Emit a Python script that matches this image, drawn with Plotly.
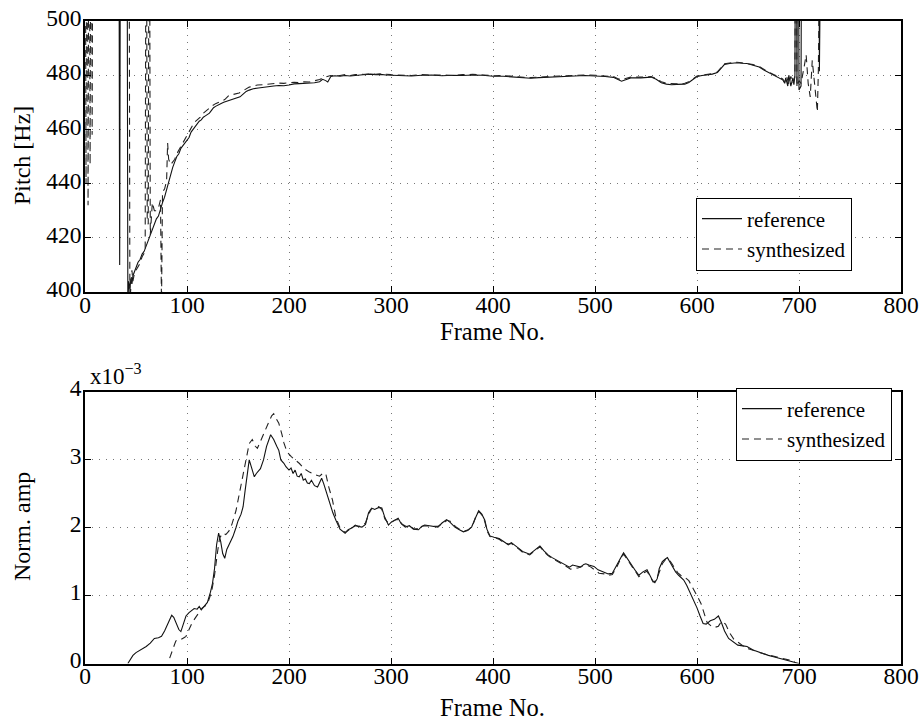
import plotly.graph_objects as go

# ---------------- Pitch (top) ----------------
ref_pitch_frames = [33, 34, 35, 41, 42, 43, 44, 45, 46, 47, 48, 50, 52, 54, 56, 58, 60, 62, 64, 66, 68, 70, 72, 74, 76, 78,
                    80, 82, 84, 86, 88, 90, 92, 94, 96, 98, 100, 102, 104, 106, 108, 110, 112, 114, 116, 118, 120, 122,
                    124, 126, 128, 130, 133, 136, 140, 144, 148, 152, 155, 158, 161, 165, 170, 175, 180, 185, 190, 195,
                    200, 205, 210, 215, 220, 225, 230, 233, 236, 238, 241, 245, 250, 255, 260, 265, 270, 275, 280, 285,
                    290, 295, 300, 310, 320, 330, 340, 350, 360, 370, 380, 390, 400, 410, 420, 430, 437, 445, 455, 465,
                    475, 490, 500, 510, 518, 522, 526, 530, 535, 545, 555, 560, 565, 570, 575, 580, 588, 592, 596, 600,
                    605, 610, 615, 620, 624, 627, 632, 639, 644, 649, 655, 661, 666, 670, 675, 678, 681, 684, 686, 687,
                    689, 690, 692, 694, 695, 696, 697, 698, 699, 700, 702, 703, 719, 720, 721, 723]
ref_pitch_values = [600, 410, 600, 600, 397, 404, 401, 405, 403, 406, 407, 409, 411, 412, 414, 415, 417, 419, 421, 423,
                    425, 427, 428, 431, 433, 435, 438, 441, 443, 446, 448, 450, 451, 453, 454, 455, 456, 457, 459, 460,
                    461, 462, 463, 463.5, 464.5, 465, 465.5, 466, 467, 468, 468.5, 469, 469.5, 470, 470.5, 471, 471.3,
                    472, 473, 474, 474.5, 475, 475.3, 475.6, 475.8, 476, 476.2, 476.1, 476.4, 476.8, 476.9, 477, 477.1,
                    477.2, 477.6, 478.5, 478, 477.5, 479.5, 479.8, 479.6, 479.9, 479.7, 479.8, 480.1, 480.3, 480.4,
                    480.2, 480.3, 480.1, 480, 479.9, 479.7, 480, 480.1, 479.8, 480, 479.9, 480.1, 480, 479.6, 479.6,
                    479.3, 479, 478.9, 479.1, 479.2, 479.5, 479.6, 479.9, 479.8, 479.5, 479.2, 478.5, 477.8, 478.3, 479,
                    479, 479.3, 478.5, 477.2, 476.7, 476.5, 476.6, 476.7, 477.3, 478.3, 479.5, 479.9, 480.2, 480.4, 481,
                    482.5, 484, 484.3, 484.6, 484.4, 484.3, 483.7, 483, 481.8, 481, 480, 479.5, 479, 478.3, 477, 479,
                    476, 480, 476, 479, 476.5, 480, 600, 476, 600, 474.5, 476, 600, 600, 481.5, 600, 600]

syn_pitch_frames = [0, 1, 2, 3, 4, 5, 6, 7, 8, 43, 44, 45, 46, 47, 48, 50, 53, 56, 59, 60, 61, 62, 63, 64, 66, 68, 70, 72,
                    74, 75, 76, 78, 80, 81, 82, 84, 86, 88, 90, 93, 96, 99, 102, 105, 107, 110, 113, 116, 119, 122, 125,
                    128, 131, 134, 137, 141, 146, 151, 156, 161, 165, 169, 175, 180, 185, 190, 195, 200, 205, 210, 215,
                    220, 225, 230, 235, 240, 245, 250, 255, 260, 265, 270, 275, 280, 285, 290, 300, 310, 320, 330, 340,
                    350, 360, 370, 380, 390, 400, 410, 420, 430, 437, 445, 455, 465, 475, 490, 500, 510, 518, 522, 526,
                    530, 535, 545, 555, 560, 565, 570, 575, 580, 588, 592, 596, 600, 605, 610, 615, 620, 624, 627, 632,
                    639, 644, 649, 655, 661, 666, 670, 675, 678, 681, 684, 686, 688, 690, 692, 694, 696, 697, 698, 700,
                    702, 705, 707, 709, 711, 713, 715, 717, 718, 719, 720, 722]
syn_pitch_values = [600, 440, 600, 432, 600, 447, 600, 458, 600, 600, 396, 402, 408, 404, 406, 408, 410, 413, 415, 600,
                    426, 425, 600, 421, 433, 430, 430, 431, 434, 395, 437, 438, 441, 455, 449, 447, 448, 449, 451, 453,
                    455, 457, 459, 461, 462.5, 463.5, 464.5, 466, 467, 468, 468.8, 469.5, 470, 470.3, 471, 472.5, 473,
                    473.4, 474.5, 475.6, 476, 476.4, 476.5, 476.7, 477, 477.1, 477, 477.2, 477.4, 477.3, 477.6, 477.5,
                    477.9, 478.4, 479.2, 479.8, 479.9, 479.9, 480.2, 479.9, 480.2, 480.4, 480.2, 480.6, 480.3, 480.5,
                    480.2, 480.1, 479.9, 480.2, 480, 480.1, 479.9, 480.2, 480.3, 480.1, 479.8, 479.9, 479.5, 479.2,
                    479.1, 479.4, 479.5, 479.7, 479.9, 480.1, 480, 479.8, 479.5, 478.8, 478.2, 478.8, 479.3, 479.3,
                    479.5, 478.8, 477.6, 477, 476.8, 476.8, 477, 477.6, 478.6, 479.7, 480, 480.3, 480.6, 481.2, 482.8,
                    484.2, 484.5, 484.8, 484.6, 484.4, 483.9, 483.2, 482, 481.2, 480.3, 479.7, 479.2, 478.6, 477.5,
                    479.5, 476.5, 479.6, 477, 479.5, 600, 476, 478, 477, 483, 487.5, 477, 472, 485.5, 478, 473, 466.5,
                    482, 600, 600]

# ---------------- Normalised amplitude (bottom, x10^-3) ----------------
ref_amp_frames = [42, 45, 47, 50, 55, 60, 64, 68, 72, 75, 78, 82, 85, 87, 89.5, 92, 94, 96, 99, 102, 105, 107, 110, 112,
                  114, 117, 120, 123, 125, 127, 129, 131, 133, 135, 137, 139, 142, 145, 148, 150, 153, 155, 157, 159,
                  161, 163, 166, 168, 170, 172, 175, 178, 182, 185, 188, 190, 192, 195, 197, 200, 202, 204, 206, 208,
                  210, 212, 214, 216, 218, 220, 222, 225, 228, 230, 232, 234, 237, 240, 243, 246, 250, 255, 258, 262,
                  265, 268, 271.5, 275, 278, 281, 284, 288, 291, 294, 297.5, 300, 304, 307, 310, 314, 318, 322, 327,
                  330, 333, 337, 341, 346, 350, 354.5, 358, 362.6, 367, 371, 375, 379, 383, 386, 389, 392, 394, 397,
                  401, 406, 410, 415, 418, 421, 425, 429, 433, 436, 440, 443, 446, 450, 454, 458, 463, 468, 472, 475,
                  478, 481, 484, 486, 489, 491, 494, 499, 503, 509, 513, 517, 521, 525, 528, 531, 534, 537, 540, 543,
                  547, 551, 554, 556.5, 558.7, 561, 563, 566, 569, 571, 574, 577, 579, 582, 584, 587, 590, 593, 597,
                  600, 603, 606, 609, 613, 617, 621, 624, 627, 631, 635, 640, 645, 649, 655, 660, 665, 670, 675, 680,
                  685, 690, 695, 700]
ref_amp_values = [0.0, 0.08, 0.12, 0.16, 0.2, 0.25, 0.3, 0.37, 0.38, 0.4, 0.48, 0.62, 0.71, 0.68, 0.6, 0.5, 0.47, 0.55,
                  0.7, 0.75, 0.79, 0.81, 0.8, 0.84, 0.79, 0.85, 0.9, 1.05, 1.18, 1.4, 1.75, 1.92, 1.8, 1.62, 1.55, 1.68,
                  1.78, 1.87, 2.0, 2.1, 2.2, 2.31, 2.55, 2.8, 3.0, 2.9, 2.75, 2.8, 2.84, 2.87, 3.0, 3.2, 3.37, 3.3, 3.2,
                  3.14, 3.0, 2.95, 2.9, 2.85, 2.88, 2.8, 2.85, 2.76, 2.75, 2.8, 2.7, 2.72, 2.66, 2.65, 2.7, 2.62, 2.6,
                  2.68, 2.73, 2.65, 2.5, 2.38, 2.22, 2.11, 1.98, 1.92, 1.97, 2.0, 2.04, 2.02, 2.01, 2.05, 2.22, 2.29,
                  2.27, 2.3, 2.29, 2.15, 2.04, 2.08, 2.12, 2.14, 2.06, 2.01, 2.03, 1.98, 1.97, 2.02, 2.04, 2.03, 2.02,
                  2.01, 2.07, 2.12, 2.08, 2.01, 1.97, 1.94, 1.96, 2.01, 2.15, 2.25, 2.2, 2.11, 1.98, 1.88, 1.86, 1.84,
                  1.8, 1.75, 1.78, 1.75, 1.7, 1.65, 1.63, 1.61, 1.66, 1.7, 1.73, 1.66, 1.6, 1.56, 1.52, 1.48, 1.44,
                  1.42, 1.45, 1.44, 1.42, 1.42, 1.46, 1.47, 1.45, 1.43, 1.38, 1.34, 1.32, 1.33, 1.43, 1.55, 1.63, 1.56,
                  1.48, 1.43, 1.36, 1.3, 1.35, 1.38, 1.3, 1.22, 1.19, 1.25, 1.4, 1.5, 1.54, 1.56, 1.48, 1.4, 1.35, 1.3,
                  1.27, 1.23, 1.15, 1.05, 0.94, 0.82, 0.7, 0.59, 0.58, 0.63, 0.65, 0.7, 0.6, 0.48, 0.37, 0.32, 0.27,
                  0.26, 0.25, 0.2, 0.17, 0.15, 0.12, 0.1, 0.08, 0.06, 0.05, 0.03, 0.0]

syn_amp_frames = [83, 86, 89, 92, 95, 97, 99, 102, 105, 109, 112, 115, 118, 121, 124, 127, 130, 132, 135, 138, 141, 144,
                  148, 151, 154, 157, 159, 161, 164, 167, 169, 172, 175, 177, 180, 183, 185, 187, 190, 193, 195, 198,
                  202, 206, 210, 215, 220, 226, 230, 233, 236, 239, 242.6, 246, 250, 255, 258, 262, 265, 268, 272, 275,
                  278, 281, 285, 288, 291, 294, 298, 301, 305, 308, 311, 315, 319, 323, 328, 332, 336, 341, 346, 350,
                  355, 359, 363, 368, 372, 376, 380, 383, 386, 389, 392, 394, 397, 401, 406, 410, 415, 418, 421, 425,
                  429, 433, 436, 440, 443, 446, 450, 454, 458, 463, 468, 472, 476, 480, 484, 488, 492, 496, 500, 504,
                  509, 513, 517, 521, 525, 528, 531, 534, 537, 540, 543, 547, 551, 554, 557, 560, 563, 566, 569, 572,
                  575, 578, 581, 584, 588, 592, 596, 600, 604, 607, 610, 614, 617, 621, 624, 628, 632, 636, 641, 646,
                  650, 655, 660, 666, 672, 678, 684, 690, 696]
syn_amp_values = [0.08, 0.2, 0.33, 0.36, 0.36, 0.38, 0.4, 0.5, 0.6, 0.69, 0.75, 0.82, 0.85, 0.92, 1.05, 1.3, 1.65, 1.85,
                  1.92, 1.9, 1.95, 2.05, 2.25, 2.48, 2.7, 2.95, 3.1, 3.24, 3.3, 3.2, 3.17, 3.28, 3.38, 3.44, 3.55, 3.65,
                  3.68, 3.62, 3.54, 3.38, 3.25, 3.12, 3.05, 3.0, 2.95, 2.87, 2.82, 2.78, 2.76, 2.8, 2.8, 2.6, 2.41, 2.15,
                  2.0, 1.93, 1.96, 1.99, 2.03, 2.02, 2.03, 2.07, 2.2, 2.28, 2.29, 2.31, 2.27, 2.13, 2.06, 2.09, 2.12,
                  2.12, 2.05, 2.02, 2.02, 1.98, 1.99, 2.03, 2.03, 2.02, 2.02, 2.06, 2.11, 2.09, 2.02, 1.97, 1.95, 1.97,
                  2.03, 2.16, 2.24, 2.19, 2.09, 1.96, 1.87, 1.86, 1.83, 1.79, 1.76, 1.77, 1.74, 1.69, 1.64, 1.62, 1.6,
                  1.65, 1.69, 1.72, 1.65, 1.59, 1.55, 1.51, 1.47, 1.43, 1.39, 1.4, 1.41, 1.44, 1.45, 1.42, 1.37, 1.33,
                  1.32, 1.3, 1.31, 1.41, 1.54, 1.61, 1.55, 1.47, 1.41, 1.35, 1.28, 1.33, 1.36, 1.28, 1.2, 1.22, 1.34,
                  1.47, 1.53, 1.54, 1.48, 1.4, 1.34, 1.3, 1.27, 1.22, 1.12, 1.0, 0.88, 0.72, 0.6, 0.55, 0.53, 0.55,
                  0.62, 0.58, 0.45, 0.36, 0.3, 0.25, 0.22, 0.19, 0.17, 0.14, 0.12, 0.09, 0.07, 0.05, 0.03, 0.0]

x_ticks = [0, 100, 200, 300, 400, 500, 600, 700, 800]
pitch_ticks = [400, 420, 440, 460, 480, 500]
amp_ticks = [0, 1, 2, 3, 4]

W, H = 920, 727
FONT = "Liberation Serif, Times New Roman, Times, serif"


def px(x):
    return x / W


def py(y):
    return 1 - y / H


fig = go.Figure()

line_ref = dict(color="#111111", width=1.1)
line_syn = dict(color="#222222", width=1.1, dash="7px,5px")

fig.add_trace(go.Scatter(x=ref_pitch_frames, y=ref_pitch_values, mode="lines", name="reference",
                         line=line_ref, xaxis="x", yaxis="y", legend="legend"))
fig.add_trace(go.Scatter(x=syn_pitch_frames, y=syn_pitch_values, mode="lines", name="synthesized",
                         line=line_syn, xaxis="x", yaxis="y", legend="legend"))
fig.add_trace(go.Scatter(x=ref_amp_frames, y=ref_amp_values, mode="lines", name="reference",
                         line=line_ref, xaxis="x2", yaxis="y2", legend="legend2"))
fig.add_trace(go.Scatter(x=syn_amp_frames, y=syn_amp_values, mode="lines", name="synthesized",
                         line=line_syn, xaxis="x2", yaxis="y2", legend="legend2"))

axis_common = dict(
    showline=True, linecolor="black", linewidth=1.5, mirror="ticks",
    ticks="inside", ticklen=6, tickcolor="black", tickwidth=1,
    showgrid=True, gridcolor="#777777", griddash="1px,6px", gridwidth=1,
    zeroline=False, automargin=False,
    tickfont=dict(family=FONT, size=23.5, color="black"),
)

xd = [px(85), px(901)]
fig.update_layout(
    width=W, height=H, autosize=False,
    margin=dict(l=0, r=0, t=0, b=0, pad=0, autoexpand=False),
    paper_bgcolor="white", plot_bgcolor="white",
    font=dict(family=FONT, size=22, color="black"),
    xaxis=dict(domain=xd, range=[0, 800], tickvals=x_ticks, anchor="y", ticklabelstandoff=-9, **axis_common),
    yaxis=dict(domain=[py(292), py(21)], range=[400, 500], tickvals=pitch_ticks, anchor="x",
               ticklabelstandoff=-3, ticklabelshift=-3, **axis_common),
    xaxis2=dict(domain=xd, range=[0, 800], tickvals=x_ticks, anchor="y2", ticklabelstandoff=-9, **axis_common),
    yaxis2=dict(domain=[py(663.5), py(392)], range=[0, 4], tickvals=amp_ticks, anchor="x2",
                ticklabelstandoff=-3, ticklabelshift=-4, **axis_common),
    legend=dict(x=px(852), y=py(234), xanchor="right", yanchor="middle",
                bgcolor="white", bordercolor="black", borderwidth=1,
                font=dict(family=FONT, size=21, color="black"), tracegroupgap=0, itemwidth=40),
    legend2=dict(x=px(892), y=py(424), xanchor="right", yanchor="middle",
                 bgcolor="white", bordercolor="black", borderwidth=1,
                 font=dict(family=FONT, size=21, color="black"), tracegroupgap=0, itemwidth=40),
    annotations=[
        dict(text="Frame No.", x=px(493), y=py(331), xref="paper", yref="paper", showarrow=False,
             xanchor="center", yanchor="middle", font=dict(family=FONT, size=24.5)),
        dict(text="Frame No.", x=px(493), y=py(707), xref="paper", yref="paper", showarrow=False,
             xanchor="center", yanchor="middle", font=dict(family=FONT, size=24.5)),
        dict(text="Pitch [Hz]", x=px(22), y=py(156), xref="paper", yref="paper", showarrow=False,
             textangle=-90, xanchor="center", yanchor="middle", font=dict(family=FONT, size=24)),
        dict(text="Norm. amp", x=px(22), y=py(527), xref="paper", yref="paper", showarrow=False,
             textangle=-90, xanchor="center", yanchor="middle", font=dict(family=FONT, size=24)),
        dict(text="x10<sup>\u22123</sup>", x=px(88), y=py(391), xref="paper", yref="paper", showarrow=False,
             xanchor="left", yanchor="bottom", font=dict(family=FONT, size=23)),
    ],
)

fig.write_html("out.html")
